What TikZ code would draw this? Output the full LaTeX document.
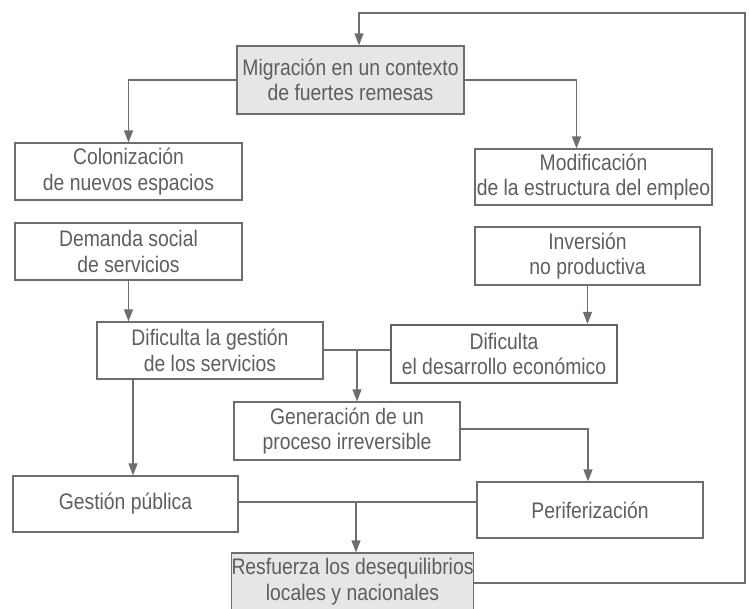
\documentclass[tikz,border=0pt]{standalone}
\usepackage{fontspec}
\setmainfont{Liberation Sans}[FakeStretch=0.86]
\usetikzlibrary{arrows.meta,calc}
\definecolor{txt}{HTML}{5E5E5E}
\definecolor{ln}{HTML}{6E6E6E}
\definecolor{shade}{HTML}{E6E6E6}
\tikzset{
  box/.style={draw=ln, line width=1.2pt, text=txt, align=center, inner sep=0pt,
    font=\fontsize{22.5}{25.5}\selectfont},
  thickbox/.style={box, line width=2.2pt, draw=ln!90!black},
  grey/.style={box, fill=shade},
  conn/.style={draw=ln, line width=1.2pt},
  arr/.style={conn, -{Triangle[length=12pt,width=9pt]}}
}
\begin{document}
\begin{tikzpicture}[x=1pt,y=-1pt]
\useasboundingbox (0,0) rectangle (749,608);
\node[grey, minimum width=227pt, minimum height=68pt] (mig) at (350.5,80) {Migración en un contexto\\de fuertes remesas};
\node[box, minimum width=227pt, minimum height=57pt] (colo) at (128.5,171.5) {Colonización\\de nuevos espacios};
\node[box, minimum width=237pt, minimum height=56pt] (modi) at (593.5,177) {Modificación\\de la estructura del empleo};
\node[box, minimum width=227pt, minimum height=57pt] (dema) at (128.5,251.5) {Demanda social\\de servicios};
\node[box, minimum width=225pt, minimum height=58pt] (inve) at (587.5,256) {Inversión\\no productiva};
\node[box, minimum width=226pt, minimum height=57pt] (dges) at (210,350.5) {Dificulta la gestión\\de los servicios};
\node[thickbox, minimum width=226pt, minimum height=58pt] (ddes) at (504,354) {Dificulta\\el desarrollo económico};
\node[box, minimum width=226pt, minimum height=58pt] (gene) at (347,431) {Generación de un\\proceso irreversible};
\node[box, minimum width=225pt, minimum height=56pt] (gpub) at (125.5,504) {Gestión pública};
\node[box, minimum width=226pt, minimum height=56pt] (peri) at (590,510) {Periferización};
\node[grey, minimum width=239pt, minimum height=57pt] (resf) at (352.5,581.5) {Resfuerza los desequilibrios\\locales y nacionales};

\coordinate (j1) at (357,350);
\coordinate (j2) at (356,502);
\coordinate (lp) at (745,13);
\coordinate (lq) at (359,13);

\draw[arr] (mig.west) -| (colo.north);
\draw[arr] (mig.east) -| ([xshift=-17pt]modi.north);
\draw[arr] (dema.south) -- (dema.south |- dges.north);
\draw[arr] (inve.south) -- (inve.south |- ddes.north);
\draw[conn] (dges.east |- j1) -- (ddes.west |- j1);
\draw[arr] (j1) -- (j1 |- gene.north);
\draw[arr] ([xshift=-77pt]dges.south) -- ([xshift=-77pt]dges.south |- gpub.north);
\draw[arr] ([yshift=2pt]gene.east) -| ([xshift=-2pt]peri.north);
\draw[conn] (gpub.east |- j2) -- (peri.west |- j2);
\draw[arr] (j2) -- (j2 |- resf.north);
\draw[arr] ([yshift=-1.5pt]resf.east) -| (lp) -- (lq) -- (lq |- mig.north);
\end{tikzpicture}
\end{document}
